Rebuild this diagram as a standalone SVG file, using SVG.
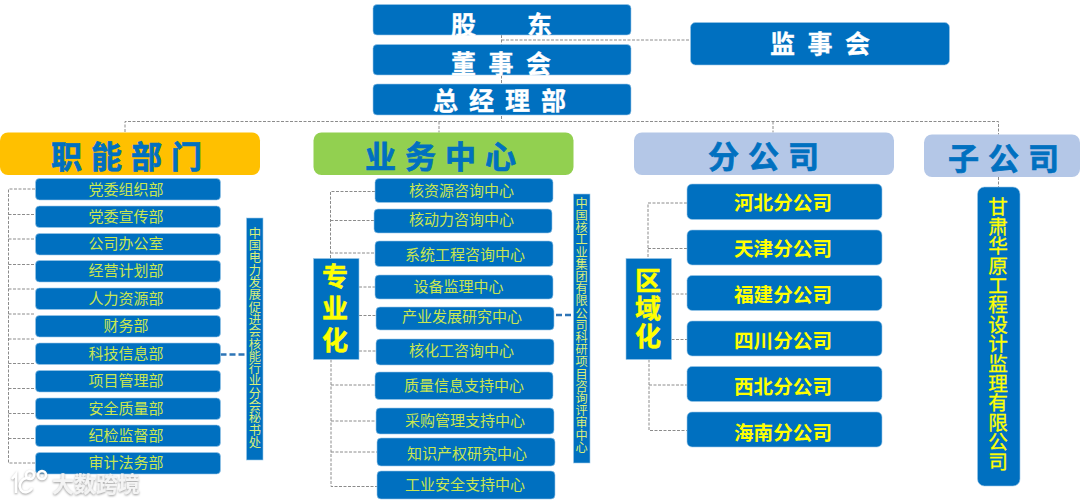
<svg xmlns="http://www.w3.org/2000/svg" width="1080" height="502" viewBox="0 0 1080 502">
<style>
text{font-family:"Noto Sans CJK SC","Liberation Sans",sans-serif}
.b{fill:#0070c0;stroke:#9cc8e8;stroke-width:.6}
.h{font-size:31px;font-weight:700;fill:#0070c0;stroke:#0070c0;stroke-width:.7;letter-spacing:9px;dominant-baseline:central;transform:translateY(-1px)}
.t{font-size:25px;font-weight:700;fill:#fff;stroke:#fff;stroke-width:.3;dominant-baseline:central;transform:translateY(-1px)}
.l{font-size:15px;fill:#c8e650;text-anchor:middle;dominant-baseline:central;transform:translateY(-1px)}
.m{font-size:19.6px;font-weight:700;fill:#ffff00;text-anchor:middle;dominant-baseline:central;transform:translateY(-1px)}
.v{writing-mode:vertical-rl;fill:#d9ef7a;text-anchor:start}
.c path{fill:none;stroke:#8c8c8c;stroke-width:1;stroke-dasharray:3 1.5}
.c path.k{stroke:#2e75b6;stroke-width:2.4;stroke-dasharray:6 3}
</style>
<defs><filter id="sh" x="-10%" y="-20%" width="120%" height="140%"><feDropShadow dx="0" dy="1" stdDeviation="1" flood-color="#9a9a9a"/></filter></defs>
<rect width="1080" height="502" fill="#fff"/>
<g id="connectors" class="c">
<path d="M501.500 35V121.500M501.500 40H690M125 132V121.500H998.500V134.500M439 121.500V132.500M773 121.500V132.500M998.500 177V187"/>
<path d="M35 189H8.500V463H35M8.500 214.500H35M8.500 239H35M8.500 264.500H35M8.500 289H35M8.500 314H35M8.500 339H35M8.500 363.500H35M8.500 388.500H35M8.500 413.500H35M8.500 438.500H35"/>
<path d="M375 191.500H330.500V258.500M330.500 220.500H374M330.500 253H375M359 287H375M359 315.500H376M359 351H376M331 359.500V486.500H377M331 385H375M331 421H376M331 452H377"/>
<path d="M687 203H648V258.500M648 248.500H687M671.500 294H687M671.500 339.500H687M649 359.500V430.500H687M649 385H687"/>
<path class="k" d="M220.500 354.500H246M556 315H573"/>
</g>
<g id="gudong"><rect class="b" x="373" y="4.500" width="258" height="30.500" rx="4"/><text class="t" x="451" y="24" letter-spacing="51">股东</text></g>
<g id="dongshihui"><rect class="b" x="373" y="44.500" width="258" height="30.500" rx="4"/><text class="t" x="451" y="62.500" letter-spacing="12.500">董事会</text></g>
<g id="zongjingli"><rect class="b" x="373" y="84" width="258" height="31" rx="4"/><text class="t" x="433" y="99.500" letter-spacing="11">总经理部</text></g>
<g id="jianshihui"><rect class="b" x="690.500" y="22.500" width="259" height="42.500" rx="5"/><text class="t" x="770" y="43" letter-spacing="12.500">监事会</text></g>

<g id="zhineng"><rect x="0" y="132.500" width="260" height="42.500" rx="8" fill="#ffc000"/><text class="h" x="51" y="155">职能部门</text></g>
<g id="yewu"><rect x="313.500" y="132.500" width="260" height="42.500" rx="8" fill="#92d050"/><text class="h" x="365" y="155">业务中心</text></g>
<g id="fengongsi"><rect x="634" y="132.500" width="260" height="42.500" rx="8" fill="#b4c7e7"/><text class="h" x="708" y="155">分公司</text></g>
<g id="zigongsi"><rect x="924" y="134.500" width="156" height="42.500" rx="8" fill="#b4c7e7"/><text class="h" x="948" y="157">子公司</text></g>

<g id="f1"><rect class="b" x="35.500" y="178.500" width="185" height="21.500" rx="4"/><text class="l" x="126" y="189">党委组织部</text></g>
<g id="f2"><rect class="b" x="35.500" y="206" width="185" height="21.500" rx="4"/><text class="l" x="126" y="216">党委宣传部</text></g>
<g id="f3"><rect class="b" x="35.500" y="233.500" width="185" height="21.500" rx="4"/><text class="l" x="126" y="243">公司办公室</text></g>
<g id="f4"><rect class="b" x="35.500" y="260.500" width="185" height="21.500" rx="4"/><text class="l" x="126" y="270">经营计划部</text></g>
<g id="f5"><rect class="b" x="35.500" y="288" width="185" height="21.500" rx="4"/><text class="l" x="126" y="298">人力资源部</text></g>
<g id="f6"><rect class="b" x="35.500" y="315.500" width="185" height="21.500" rx="4"/><text class="l" x="126" y="325">财务部</text></g>
<g id="f7"><rect class="b" x="35.500" y="343" width="185" height="21.500" rx="4"/><text class="l" x="126" y="353">科技信息部</text></g>
<g id="f8"><rect class="b" x="35.500" y="370.500" width="185" height="21.500" rx="4"/><text class="l" x="126" y="380">项目管理部</text></g>
<g id="f9"><rect class="b" x="35.500" y="398" width="185" height="21.500" rx="4"/><text class="l" x="126" y="408">安全质量部</text></g>
<g id="f10"><rect class="b" x="35.500" y="425" width="185" height="21.500" rx="4"/><text class="l" x="126" y="435">纪检监督部</text></g>
<g id="f11"><rect class="b" x="35.500" y="452.500" width="185" height="21.500" rx="4"/><text class="l" x="126" y="462">审计法务部</text></g>
<g id="fv"><rect class="b" x="246.500" y="218" width="16.500" height="242"/><text class="l v" style="font-size:12.300px" x="255" y="228">中国电力发展促进会核能行业分会秘书处</text></g>

<g id="s1"><rect class="b" x="375" y="178.500" width="178" height="24" rx="4"/><text class="l" x="461.500" y="190">核资源咨询中心</text></g>
<g id="s2"><rect class="b" x="374" y="209" width="178" height="24" rx="4"/><text class="l" x="461.500" y="219">核动力咨询中心</text></g>
<g id="s3"><rect class="b" x="375" y="241" width="178" height="25.500" rx="4"/><text class="l" x="465" y="254">系统工程咨询中心</text></g>
<g id="s4"><rect class="b" x="375" y="275" width="178" height="24" rx="4"/><text class="l" x="458.500" y="286">设备监理中心</text></g>
<g id="s5"><rect class="b" x="376" y="307" width="178" height="23" rx="4"/><text class="l" x="462" y="316.500">产业发展研究中心</text></g>
<g id="s6"><rect class="b" x="376" y="339" width="178" height="26" rx="4"/><text class="l" x="461.500" y="350">核化工咨询中心</text></g>
<g id="s7"><rect class="b" x="375" y="372" width="178" height="27.500" rx="4"/><text class="l" x="464" y="385">质量信息支持中心</text></g>
<g id="s8"><rect class="b" x="376" y="408" width="178" height="26" rx="4"/><text class="l" x="465" y="420">采购管理支持中心</text></g>
<g id="s9"><rect class="b" x="377" y="438" width="178" height="28" rx="4"/><text class="l" x="467" y="453">知识产权研究中心</text></g>
<g id="s10"><rect class="b" x="377" y="471" width="178" height="28" rx="4"/><text class="l" x="465" y="484.500">工业安全支持中心</text></g>
<g id="sv"><rect class="b" x="573.500" y="194" width="16.500" height="269"/><text class="l v" style="font-size:12.200px" x="581.500" y="198">中国核工业集团有限公司科研项目咨询评审中心</text></g>
<g id="zhuanye"><rect class="b" x="313.500" y="258.500" width="45.500" height="101"/><text class="m v" style="fill:#ffff00;stroke:#ffff00;stroke-width:.5;font-size:26px;letter-spacing:6px" x="335" y="264">专业化</text></g>

<g id="b1"><rect class="b" x="687" y="184" width="195" height="35.500" rx="5"/><text class="m" x="783" y="202">河北分公司</text></g>
<g id="b2"><rect class="b" x="687" y="230" width="195" height="35" rx="5"/><text class="m" x="783" y="248.500">天津分公司</text></g>
<g id="b3"><rect class="b" x="687" y="275.500" width="195" height="35" rx="5"/><text class="m" x="783" y="294">福建分公司</text></g>
<g id="b4"><rect class="b" x="687" y="321" width="195" height="35" rx="5"/><text class="m" x="783" y="340">四川分公司</text></g>
<g id="b5"><rect class="b" x="687" y="366.500" width="195" height="35" rx="5"/><text class="m" x="783" y="386">西北分公司</text></g>
<g id="b6"><rect class="b" x="687" y="412" width="195" height="35" rx="5"/><text class="m" x="783" y="432">海南分公司</text></g>
<g id="quyu"><rect class="b" x="626" y="258.500" width="45.500" height="101"/><text class="m v" style="fill:#ffff00;stroke:#ffff00;stroke-width:.5;font-size:26px;letter-spacing:2px" x="648" y="268">区域化</text></g>

<g id="gansu"><rect class="b" x="977.500" y="187" width="42.500" height="299" rx="7"/><text class="m v" style="font-size:19.600px;font-weight:400;fill:#ffff00;stroke:#ffff00;stroke-width:.3" x="998" y="198">甘肃华原工程设计监理有限公司</text></g>

<g id="watermark" fill="none" stroke="#ffffff" stroke-width="2.500" filter="url(#sh)">
<path d="M12 479L16 474V493M30 478C21 477 18 485 21 490C24 494 30 492 32 488"/>
<circle cx="30" cy="475" r="4"/><circle cx="42" cy="475" r="4"/>
<text x="52" y="482" style="font-size:22px;font-weight:700;fill:#f4f4f4;stroke:none;dominant-baseline:central">大数跨境</text>
</g>
</svg>
